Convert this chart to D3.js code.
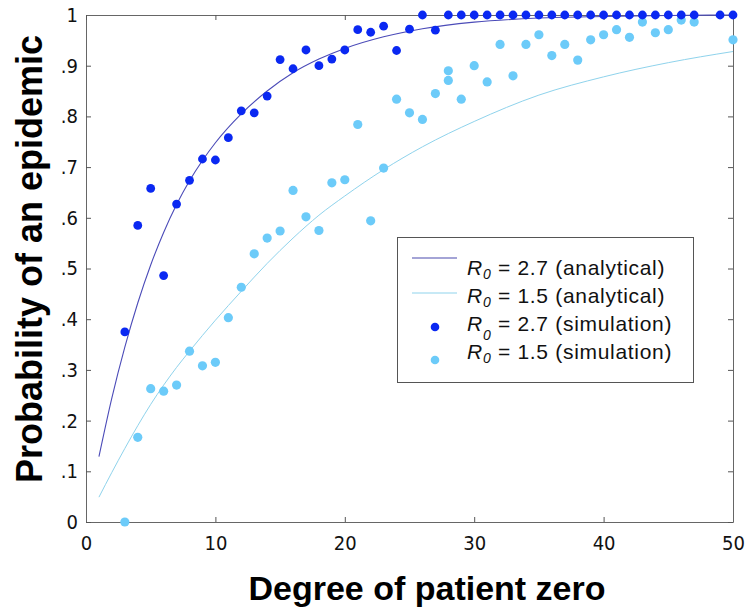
<!DOCTYPE html>
<html lang="en">
  <head>
    <meta charset="UTF-8" />
    <title>Probability of an epidemic</title>
    <style>
      body {
        margin: 0;
        background-color: #fff;
      }
      .tick text {
        font-family: "DejaVu Sans Condensed", "DejaVu Sans", sans-serif;
        font-size: 20px;
        fill: #111;
      }
      .title {
        font-family: "Liberation Sans", Arial, sans-serif;
        font-weight: bold;
        fill: #000;
      }
      .legend text {
        font-family: "Liberation Sans", Arial, sans-serif;
        font-size: 21px;
        letter-spacing: 0.7px;
        fill: #111;
      }
    </style>
  </head>
  <body>
    <div class="container"></div>

    <script src="https://d3js.org/d3.v7.min.js"></script>
    <script>
      // simulation results, R0 = 2.7
      const simHighX = [3, 4, 5, 6, 7, 8, 9, 10, 11, 12, 13, 14, 15, 16, 17, 18, 19, 20,
                        21, 22, 23, 24, 25, 26, 27, 28, 29, 30, 31, 32, 33, 34, 35, 36,
                        37, 38, 39, 40, 41, 42, 43, 44, 45, 46, 47, 49, 50];
      const simHighY = [0.375, 0.585, 0.658, 0.486, 0.627, 0.674, 0.716, 0.714, 0.758, 0.811,
                        0.807, 0.840, 0.912, 0.894, 0.931, 0.900, 0.913, 0.931, 0.971, 0.966,
                        0.978, 0.930, 0.972, 1, 0.970, 1, 1, 1, 1, 1, 1, 1, 1, 1,
                        1, 1, 1, 1, 1, 1, 1, 1, 1, 1, 1, 1, 1];

      // simulation results, R0 = 1.5
      const simLowX = [3, 4, 5, 6, 7, 8, 9, 10, 11, 12, 13, 14, 15, 16, 17, 18, 19, 20,
                       21, 22, 23, 24, 25, 26, 27, 28, 28, 29, 30, 31, 32, 33, 34, 35,
                       36, 37, 38, 39, 40, 41, 42, 43, 44, 45, 46, 47, 50];
      const simLowY = [0, 0.167, 0.263, 0.258, 0.270, 0.337, 0.308, 0.315, 0.403, 0.463,
                       0.529, 0.560, 0.574, 0.654, 0.602, 0.575, 0.669, 0.675, 0.784, 0.594,
                       0.698, 0.834, 0.807, 0.794, 0.845, 0.890, 0.871, 0.834, 0.900, 0.868,
                       0.942, 0.880, 0.942, 0.961, 0.920, 0.942, 0.911, 0.951, 0.961, 0.971,
                       0.956, 0.986, 0.965, 0.971, 0.990, 0.986, 0.951];

      // analytical curves
      const curveX = [1, 2, 3, 4, 5, 6, 7, 8, 9, 10, 12, 14, 16, 18, 20, 23, 26, 30, 35, 40, 45, 50];
      const curveHigh = [0.129, 0.245, 0.345, 0.432, 0.507, 0.571, 0.626, 0.673, 0.713, 0.748, 0.805,
                         0.85, 0.886, 0.913, 0.934, 0.957, 0.973, 0.986, 0.994, 0.997, 0.999, 1.0];
      const curveLow = [0.049, 0.098, 0.145, 0.19, 0.232, 0.27, 0.305, 0.337, 0.368, 0.398, 0.455,
                        0.51, 0.56, 0.605, 0.643, 0.695, 0.74, 0.79, 0.842, 0.878, 0.906, 0.928];

      const xTicks = [0, 10, 20, 30, 40, 50];
      const yTicks = [0, 0.1, 0.2, 0.3, 0.4, 0.5, 0.6, 0.7, 0.8, 0.9, 1];
      const yTickLabels = ["0", ".1", ".2", ".3", ".4", ".5", ".6", ".7", ".8", ".9", "1"];

      const legendLabels = [" = 2.7 (analytical)", " = 1.5 (analytical)",
                            " = 2.7 (simulation)", " = 1.5 (simulation)"];

      const w = 745, h = 613;
      const mLeft = 86, mRight = 733, mTop = 15, mBottom = 522;

      const darkDot = "#0a28f2", lightDot = "#6ccbf9";
      const darkLine = "#4b4bb8", lightLine = "#8fd3ec";

      const xScale = d3.scaleLinear().domain([0, 50]).range([mLeft, mRight]);
      const yScale = d3.scaleLinear().domain([0, 1]).range([mBottom, mTop]);

      const svg = d3.select(".container")
                    .append("svg")
                    .attr("width", w)
                    .attr("height", h);

      const axisStyle = g => {
        g.select(".domain").attr("stroke", "#666");
        g.selectAll(".tick line").attr("stroke", "#555");
      };

      // bottom and left with labels, ticks pointing inwards
      svg.append("g")
         .attr("transform", "translate(0," + mBottom + ")")
         .call(d3.axisBottom(xScale).tickValues(xTicks).tickSize(-5).tickSizeOuter(0).tickPadding(13).tickFormat(d3.format("d")))
         .call(axisStyle)
         .call(g => g.selectAll(".tick text").attr("dy", "0.75em"));

      svg.append("g")
         .attr("transform", "translate(" + mLeft + ",0)")
         .call(d3.axisLeft(yScale).tickValues(yTicks).tickSize(-5).tickSizeOuter(0).tickPadding(8)
                 .tickFormat((d, i) => yTickLabels[i]))
         .call(axisStyle);

      // mirrored top and right
      svg.append("g")
         .attr("transform", "translate(0," + mTop + ")")
         .call(d3.axisTop(xScale).tickValues(xTicks).tickSize(-5).tickSizeOuter(0).tickFormat(""))
         .call(axisStyle);

      svg.append("g")
         .attr("transform", "translate(" + mRight + ",0)")
         .call(d3.axisRight(yScale).tickValues(yTicks).tickSize(-5).tickSizeOuter(0).tickFormat(""))
         .call(axisStyle);

      const line = ys => d3.line()
                            .x((d, i) => xScale(curveX[i]))
                            .y((d, i) => yScale(ys[i]))
                            .curve(d3.curveMonotoneX)(curveX);

      svg.append("path")
         .attr("d", line(curveLow))
         .attr("fill", "none")
         .attr("stroke", lightLine)
         .attr("stroke-width", 1);

      svg.append("path")
         .attr("d", line(curveHigh))
         .attr("fill", "none")
         .attr("stroke", darkLine)
         .attr("stroke-width", 1.1);

      svg.append("g")
         .selectAll("circle")
         .data(simLowX)
         .enter()
         .append("circle")
         .attr("cx", d => xScale(d))
         .attr("cy", (d, i) => yScale(simLowY[i]))
         .attr("r", 4.6)
         .attr("fill", lightDot);

      svg.append("g")
         .selectAll("circle")
         .data(simHighX)
         .enter()
         .append("circle")
         .attr("cx", d => xScale(d))
         .attr("cy", (d, i) => yScale(simHighY[i]))
         .attr("r", 4.4)
         .attr("fill", darkDot);

      // legend
      const legend = svg.append("g").attr("class", "legend");
      legend.append("rect")
            .attr("x", 397.5)
            .attr("y", 237.5)
            .attr("width", 296)
            .attr("height", 145)
            .attr("fill", "#fff")
            .attr("stroke", "#555")
            .attr("stroke-width", 1);

      const rowY = [275, 303, 331, 359];
      legend.append("line")
            .attr("x1", 412).attr("x2", 457).attr("y1", 258).attr("y2", 258)
            .attr("stroke", "#8686c8").attr("stroke-width", 1.5);
      legend.append("line")
            .attr("x1", 412).attr("x2", 457).attr("y1", 293).attr("y2", 293)
            .attr("stroke", lightLine).attr("stroke-width", 1);
      legend.append("circle").attr("cx", 435).attr("cy", 327).attr("r", 4.3).attr("fill", darkDot);
      legend.append("circle").attr("cx", 435).attr("cy", 360).attr("r", 4.3).attr("fill", lightDot);

      legendLabels.forEach((lab, i) => {
        const t = legend.append("text").attr("x", 467).attr("y", rowY[i]);
        t.append("tspan").attr("font-style", "italic").text("R");
        t.append("tspan").attr("font-style", "italic").attr("font-size", "14px")
         .attr("dy", i == 2 ? 9 : 4).text("0");
        t.append("tspan").attr("dy", i == 2 ? -9 : -4).text(lab);
      });

      // axis titles
      svg.append("text")
         .attr("class", "title")
         .attr("x", 427)
         .attr("y", 600)
         .attr("text-anchor", "middle")
         .style("font-size", "34px")
         .text("Degree of patient zero");

      svg.append("text")
         .attr("class", "title")
         .attr("transform", "translate(42," + 259 + ") rotate(-90)")
         .attr("text-anchor", "middle")
         .style("font-size", "36px")
         .text("Probability of an epidemic");
    </script>
  </body>
</html>
